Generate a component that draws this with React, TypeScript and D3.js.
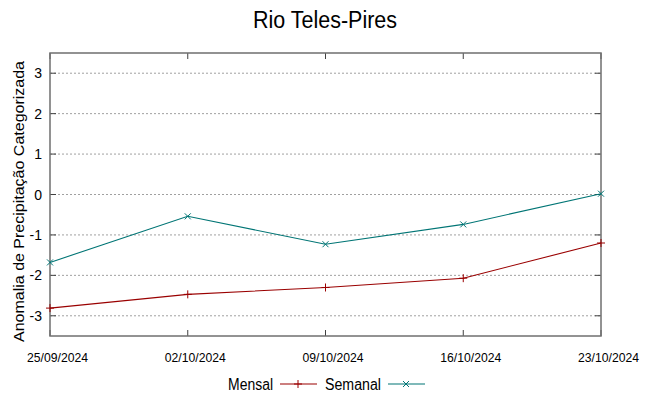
import React, { useRef, useEffect } from 'react';
import * as d3 from 'd3';

const dates = ['25/09/2024', '02/10/2024', '09/10/2024', '16/10/2024', '23/10/2024'];
const mensal = [-2.81, -2.47, -2.3, -2.07, -1.2];
const semanal = [-1.68, -0.54, -1.23, -0.74, 0.02];
const yTicks = [-3, -2, -1, 0, 1, 2, 3];

const RED = '#9a0000';
const TEAL = '#007575';

const App = () => {
    const ref = useRef<SVGSVGElement>(null);

    useEffect(() => {
        const svg = d3.select(ref.current);
        svg.selectAll('*').remove();

        const left = 50, right = 601, top = 53, bottom = 336;
        const x = d3.scalePoint<string>().domain(dates).range([left, right]);
        const y = d3.scaleLinear().domain([-3.5, 3.5]).range([bottom, top]);
        const font = 'Liberation Sans, Arial, sans-serif';

        // grid
        svg.append('g').selectAll('line').data(yTicks).enter().append('line')
            .attr('x1', left).attr('x2', right)
            .attr('y1', d => y(d)).attr('y2', d => y(d))
            .attr('stroke', '#a0a0a0').attr('stroke-width', 1)
            .attr('stroke-dasharray', '2,2');

        // ticks (mirrored)
        const tk = svg.append('g').attr('stroke', '#404040');
        yTicks.forEach(t => {
            tk.append('line').attr('x1', left).attr('x2', left + 6).attr('y1', y(t)).attr('y2', y(t));
            tk.append('line').attr('x1', right - 6).attr('x2', right).attr('y1', y(t)).attr('y2', y(t));
        });
        dates.forEach(d => {
            tk.append('line').attr('x1', x(d)!).attr('x2', x(d)!).attr('y1', bottom).attr('y2', bottom - 6);
            tk.append('line').attr('x1', x(d)!).attr('x2', x(d)!).attr('y1', top).attr('y2', top + 6);
        });

        // border
        svg.append('rect')
            .attr('x', left).attr('y', top)
            .attr('width', right - left).attr('height', bottom - top)
            .attr('fill', 'none').attr('stroke', '#6f6f6f').attr('stroke-width', 1.5);

        // y labels
        svg.append('g').selectAll('text').data(yTicks).enter().append('text')
            .attr('x', left - 8).attr('y', d => y(d) + 5)
            .attr('text-anchor', 'end')
            .style('font-family', font).style('font-size', '14px')
            .text(d => d);

        // x labels (offset right of the tick, condensed as in gnuplot output)
        svg.append('g').selectAll('text').data(dates).enter().append('text')
            .attr('x', d => x(d)! - 23).attr('y', bottom + 26)
            .attr('textLength', 61).attr('lengthAdjust', 'spacingAndGlyphs')
            .style('font-family', font).style('font-size', '13.5px')
            .text(d => d);

        // title
        svg.append('text')
            .attr('x', 253).attr('y', 28)
            .attr('textLength', 144).attr('lengthAdjust', 'spacingAndGlyphs')
            .style('font-family', font).style('font-size', '23px')
            .text('Rio Teles-Pires');

        // y axis title
        svg.append('text')
            .attr('transform', `translate(24,201.5) rotate(-90)`)
            .attr('text-anchor', 'middle')
            .attr('textLength', 281).attr('lengthAdjust', 'spacingAndGlyphs')
            .style('font-family', font).style('font-size', '15.5px')
            .text('Anomalia de Precipitação Categorizada');

        const line = d3.line<number>().x((_, i) => x(dates[i])!).y(d => y(d));

        const plus = (g: any, cx: number, cy: number, c: string) => {
            g.append('path').attr('d', `M${cx - 4},${cy}H${cx + 4}M${cx},${cy - 4}V${cy + 4}`)
                .attr('stroke', c).attr('stroke-width', 1).attr('fill', 'none');
        };
        const cross = (g: any, cx: number, cy: number, c: string) => {
            g.append('path').attr('d', `M${cx - 3},${cy - 3}L${cx + 3},${cy + 3}M${cx - 3},${cy + 3}L${cx + 3},${cy - 3}`)
                .attr('stroke', c).attr('stroke-width', 1).attr('fill', 'none');
        };

        const series = [
            { name: 'Mensal', values: mensal, color: RED, mark: plus },
            { name: 'Semanal', values: semanal, color: TEAL, mark: cross },
        ];

        series.forEach(s => {
            const g = svg.append('g');
            g.append('path').datum(s.values).attr('d', line)
                .attr('fill', 'none').attr('stroke', s.color).attr('stroke-width', 1.1);
            s.values.forEach((v, i) => s.mark(g, x(dates[i])!, y(v), s.color));
        });

        // legend
        const leg = [
            { textX: 228, textW: 45, lineX: 280 },
            { textX: 325, textW: 56, lineX: 388 },
        ];
        series.forEach((s, i) => {
            const ly = 384;
            svg.append('text')
                .attr('x', leg[i].textX).attr('y', ly + 6)
                .attr('textLength', leg[i].textW).attr('lengthAdjust', 'spacingAndGlyphs')
                .style('font-family', font).style('font-size', '16px')
                .text(s.name);
            svg.append('line')
                .attr('x1', leg[i].lineX).attr('x2', leg[i].lineX + 37)
                .attr('y1', ly).attr('y2', ly)
                .attr('stroke', s.color).attr('stroke-width', 1.1);
            s.mark(svg, leg[i].lineX + 18, ly, s.color);
        });
    }, []);

    return <svg ref={ref} width={649} height={396} style={{ position: 'absolute', left: 0, top: 0 }}></svg>;
};

export default App;
